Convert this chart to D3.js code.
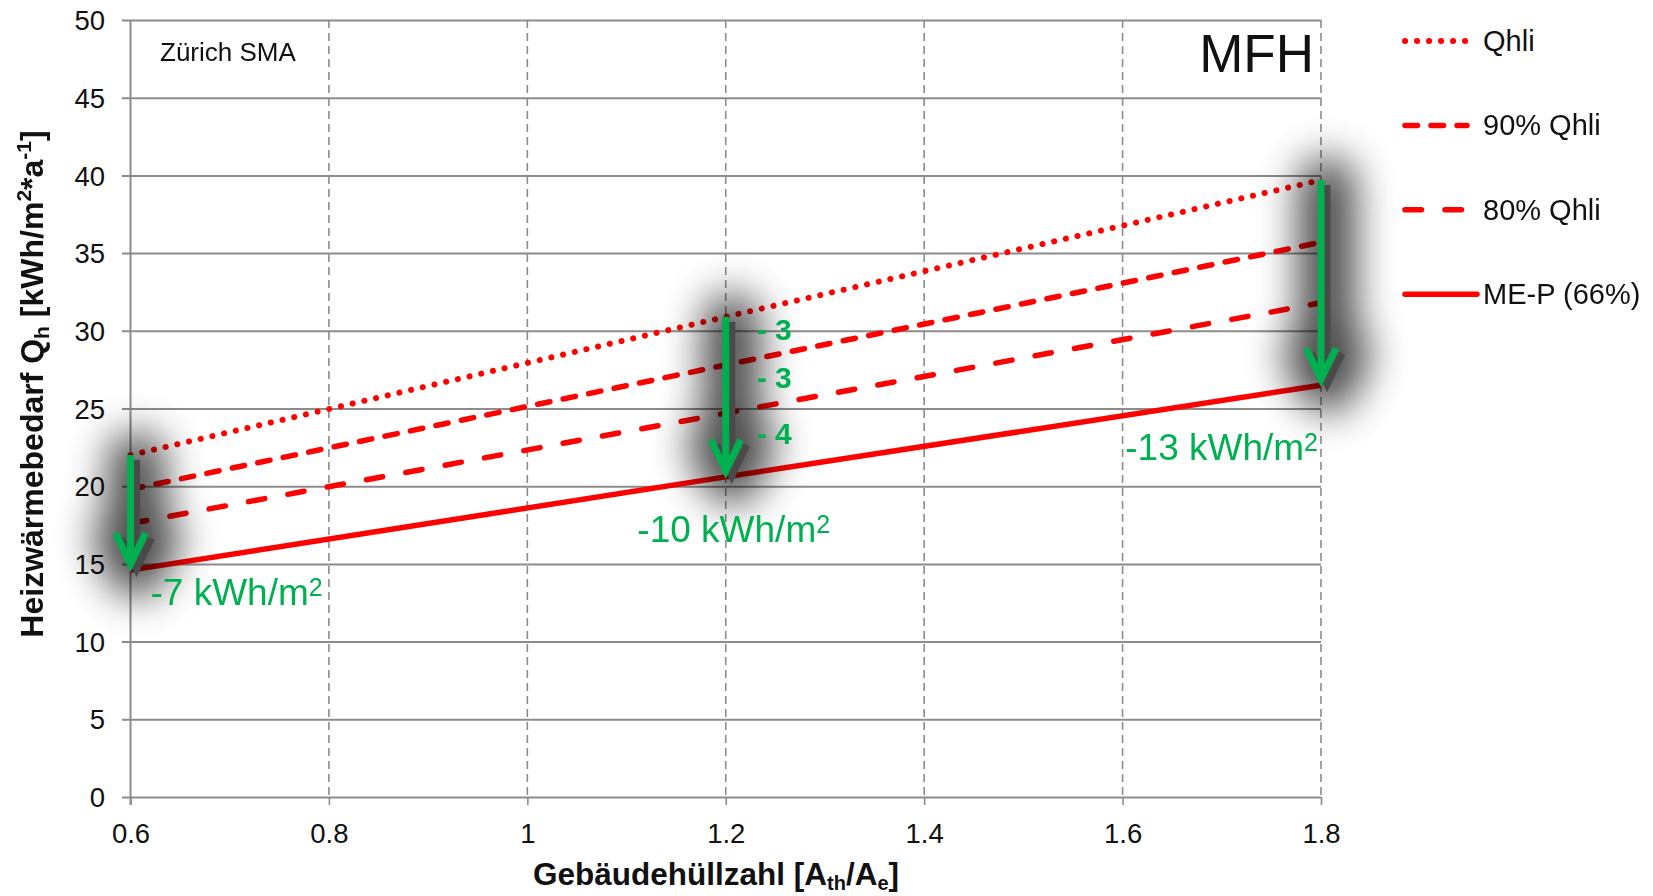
<!DOCTYPE html>
<html><head><meta charset="utf-8">
<script src="https://cdn.jsdelivr.net/npm/d3@7"></script>
<style>
body{margin:0;background:#fff;}
svg{display:block;font-family:"Liberation Sans",Arial,Helvetica,sans-serif;}
</style>
</head><body>
<svg id="c" width="1653" height="896"></svg>
<script>
// ---------- data ----------
const xValues = [0.6, 1.2, 1.8];
const qhli    = [22.0, 30.9, 39.7];
const qhli90  = [19.8, 27.8, 35.7];
const qhli80  = [17.6, 24.7, 31.8];
const meP     = [14.6, 20.6, 26.5];
const seriesNames = ["Qhli", "90% Qhli", "80% Qhli", "ME-P (66%)"];
const xTicks = [0.6, 0.8, 1, 1.2, 1.4, 1.6, 1.8];
const yTicks = [0, 5, 10, 15, 20, 25, 30, 35, 40, 45, 50];
const totalLabels = ["-7 kWh/m", "-10 kWh/m", "-13 kWh/m"];
const stepLabels = ["- 3", "- 3", "- 4"];
const stepIndex = 1; // steps annotated at x = 1.2
const placeLabel = "Zürich SMA";
const typeLabel = "MFH";

// ---------- setup ----------
const svg = d3.select("#c");
const x = d3.scaleLinear().domain([0.6, 1.8]).range([130.5, 1321]);
const y = d3.scaleLinear().domain([0, 50]).range([797, 20]);
const grid = "#8c8c8c";
const red = "#ff0000";
const green = "#00b050";

const defs = svg.append("defs");
const f = defs.append("filter").attr("id", "glow")
  .attr("filterUnits", "userSpaceOnUse")
  .attr("x", 0).attr("y", 0).attr("width", 1653).attr("height", 896);
f.append("feGaussianBlur").attr("stdDeviation", 20);

// ---------- grid & axes ----------
svg.append("g").selectAll("line").data(xTicks.filter(d => d > 0.6)).join("line")
  .attr("x1", d => x(d)).attr("x2", d => x(d))
  .attr("y1", y(50)).attr("y2", y(0))
  .attr("stroke", grid).attr("stroke-width", 1.6).attr("stroke-dasharray", "8,5");

const yAxis = svg.append("g").attr("transform", `translate(122,0)`)
  .call(d3.axisLeft(y).tickValues(yTicks).tickSize(-(x(1.8) - 122)).tickPadding(17).tickFormat(d => d));
yAxis.select(".domain").remove();
yAxis.selectAll(".tick line").attr("stroke", grid).attr("stroke-width", 2);
yAxis.selectAll(".tick text").attr("font-size", 27.5).attr("fill", "#111")
  .attr("font-family", "Liberation Sans, Arial, sans-serif").attr("dy", "0.35em");

svg.append("line").attr("x1", x(0.6)).attr("x2", x(0.6)).attr("y1", y(50)).attr("y2", y(0) + 8)
  .attr("stroke", grid).attr("stroke-width", 2);

const xAxis = svg.append("g").attr("transform", `translate(0,${y(0)})`)
  .call(d3.axisBottom(x).tickValues(xTicks).tickSize(8).tickPadding(18).tickFormat(d => String(d)));
xAxis.select(".domain").remove();
xAxis.selectAll(".tick line").attr("stroke", grid).attr("stroke-width", 1.6);
xAxis.selectAll(".tick text").attr("font-size", 27.5).attr("fill", "#111")
  .attr("font-family", "Liberation Sans, Arial, sans-serif");

// ---------- series lines ----------
const series = [
  {name: seriesNames[0], values: qhli,   dash: "0.1,11.9",  width: 6},
  {name: seriesNames[1], values: qhli90, dash: "12.5,13.5", width: 5.5},
  {name: seriesNames[2], values: qhli80, dash: "16.5,23.5", width: 5.5},
  {name: seriesNames[3], values: meP,    dash: null,        width: 5.5}
];
const line = d3.line().x((d, i) => x(xValues[i])).y(d => y(d));
svg.append("g").selectAll("path").data(series).join("path")
  .attr("d", d => line(d.values))
  .attr("fill", "none").attr("stroke", red)
  .attr("stroke-width", d => d.width)
  .attr("stroke-linecap", d => d.dash ? "round" : "butt")
  .attr("stroke-dasharray", d => d.dash);

// ---------- arrows ----------
const arrowPath = i => {
  const xi = x(xValues[i]), y0 = y(qhli[i]), y1 = y(meP[i]) - 6;
  return `M${xi},${y0}L${xi},${y1}M${xi - 15},${y1 - 31}L${xi},${y1}L${xi + 15},${y1 - 31}`;
};
const arrows = svg.append("g");
const glowG = arrows.append("g").attr("filter", "url(#glow)").attr("opacity", 0.72);
xValues.forEach((v, i) => {
  glowG.append("path").attr("d", arrowPath(i))
    .attr("transform", "translate(6,5)")
    .attr("fill", "none").attr("stroke", "#000")
    .attr("stroke-width", 56).attr("stroke-linejoin", "round").attr("stroke-linecap", "round");
});
xValues.forEach((v, i) => {
  arrows.append("path").attr("d", arrowPath(i))
    .attr("transform", "translate(6,5)")
    .attr("fill", "none").attr("stroke", "#4a4a4a")
    .attr("stroke-width", 7).attr("stroke-linejoin", "miter");
  arrows.append("path").attr("d", arrowPath(i))
    .attr("fill", "none").attr("stroke", green)
    .attr("stroke-width", 7).attr("stroke-linejoin", "miter");
});

// ---------- annotations ----------
const totalPlace = [
  {anchor: "start",  dx: 20, dy: 35},
  {anchor: "middle", dx: 8,  dy: 65},
  {anchor: "end",    dx: -3, dy: 75}
];
totalLabels.forEach((t, i) => {
  const p = totalPlace[i];
  const tx = svg.append("text")
    .attr("x", x(xValues[i]) + p.dx).attr("y", y(meP[i]) + p.dy)
    .attr("text-anchor", p.anchor).attr("fill", green).attr("font-size", 37);
  tx.append("tspan").text(t);
  tx.append("tspan").attr("dy", -9).attr("font-size", 25).text("2");
});

const seriesAt = series.map(s => s.values[stepIndex]);
stepLabels.forEach((t, j) => {
  const mid = (seriesAt[j] + seriesAt[j + 1]) / 2;
  svg.append("text")
    .attr("x", x(xValues[stepIndex]) + 31).attr("y", y(mid) - 1)
    .attr("fill", green).attr("font-size", 30).attr("font-weight", "bold").text(t);
});

svg.append("text").attr("x", 160).attr("y", 61).attr("font-size", 26).attr("fill", "#111").text(placeLabel);
svg.append("text").attr("x", 1314).attr("y", 72).attr("text-anchor", "end")
  .attr("font-size", 53).attr("fill", "#111").text(typeLabel);

// ---------- axis titles ----------
const yt = svg.append("text").attr("transform", "translate(43,384) rotate(-90)")
  .attr("text-anchor", "middle").attr("font-size", 32).attr("font-weight", "bold").attr("fill", "#111");
yt.append("tspan").text("Heizwärmebedarf Q");
yt.append("tspan").attr("font-size", 21).attr("dy", 6).text("h");
yt.append("tspan").attr("dy", -6).text(" [kWh/m");
yt.append("tspan").attr("font-size", 21).attr("dy", -12).text("2");
yt.append("tspan").attr("dy", 12).text("*a");
yt.append("tspan").attr("font-size", 21).attr("dy", -12).text("-1");
yt.append("tspan").attr("dy", 12).text("]");

const xt = svg.append("text").attr("x", 716).attr("y", 885)
  .attr("text-anchor", "middle").attr("font-size", 31.5).attr("font-weight", "bold").attr("fill", "#111");
xt.append("tspan").text("Gebäudehüllzahl [A");
xt.append("tspan").attr("font-size", 20).attr("dy", 5).text("th");
xt.append("tspan").attr("dy", -5).text("/A");
xt.append("tspan").attr("font-size", 20).attr("dy", 5).text("e");
xt.append("tspan").attr("dy", -5).text("]");

// ---------- legend ----------
const lg = svg.append("g").selectAll("g").data(series).join("g")
  .attr("transform", (d, i) => `translate(1405,${41 + i * 84.4})`);
lg.append("line").attr("x1", 0).attr("x2", (d, i) => i === 3 ? 72 : 62).attr("y1", 0).attr("y2", 0)
  .attr("stroke", red).attr("stroke-width", d => d.width)
  .attr("stroke-linecap", "round").attr("stroke-dasharray", d => d.dash);
lg.append("text").attr("x", 78).attr("y", 10).attr("font-size", 29).attr("fill", "#111").text(d => d.name);
</script>
</body></html>
